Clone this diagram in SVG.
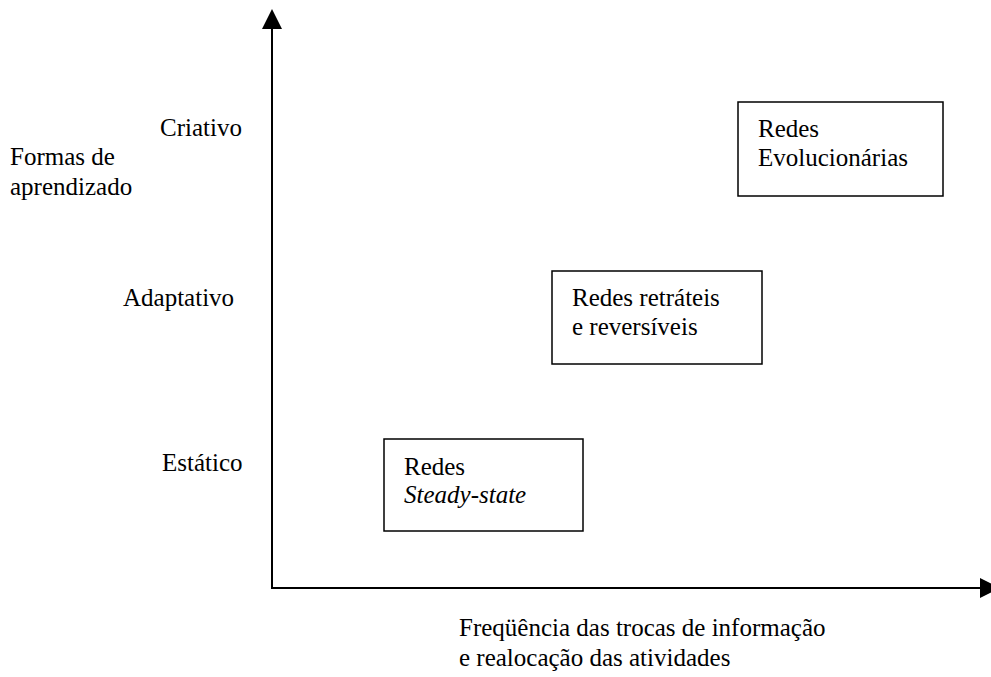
<svg xmlns="http://www.w3.org/2000/svg" width="991" height="677" viewBox="0 0 991 677">
<style>
text{font-family:"Liberation Serif","Times New Roman",serif;font-size:25px;fill:#000}
.box{fill:#fff;stroke:#000;stroke-width:1.5}
.axis{stroke:#000;stroke-width:2;fill:none}
.it{font-style:italic}
</style>
<rect width="991" height="677" fill="#fff"/>
<g id="connectors">
<line class="axis" x1="272" y1="589" x2="272" y2="26"/>
<polygon points="262,29 282,29 272,9" fill="#000"/>
<line class="axis" x1="271" y1="588" x2="982" y2="588"/>
<polygon points="980,578 980,598 1000,588" fill="#000"/>
</g>
<g id="y-title"><text x="10" y="165">Formas de</text><text x="10" y="195">aprendizado</text></g>
<g id="x-title"><text x="459" y="636">Freqüência das trocas de informação</text><text x="459" y="666">e realocação das atividades</text></g>
<g id="label-criativo"><text x="160" y="136">Criativo</text></g>
<g id="label-adaptativo"><text x="123" y="306">Adaptativo</text></g>
<g id="label-estatico"><text x="162" y="471">Estático</text></g>
<g id="node-evolucionarias"><rect class="box" x="738" y="102" width="205" height="94"/><text x="758" y="137">Redes</text><text x="758" y="166">Evolucionárias</text></g>
<g id="node-retrateis"><rect class="box" x="552" y="271" width="210" height="93"/><text x="572" y="306">Redes retráteis</text><text x="572" y="335">e reversíveis</text></g>
<g id="node-steady"><rect class="box" x="384" y="439" width="199" height="92"/><text x="404" y="475">Redes</text><text class="it" x="404" y="503">Steady-state</text></g>
</svg>
